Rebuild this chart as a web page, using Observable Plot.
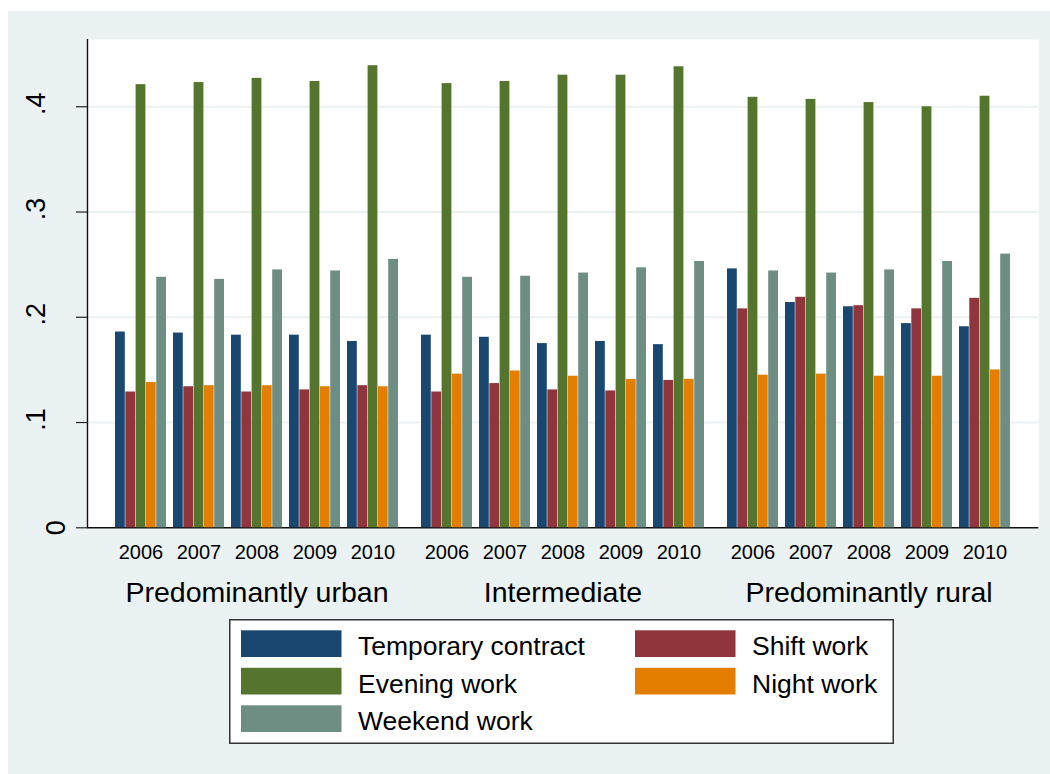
<!DOCTYPE html>
<html>
<head>
<meta charset="utf-8">
<script src="https://cdn.jsdelivr.net/npm/d3@7"></script>
<script src="https://cdn.jsdelivr.net/npm/@observablehq/plot@0.6"></script>
<style>
  html, body { margin: 0; padding: 0; background: #ffffff; }
  #page { position: relative; width: 1050px; height: 774px; overflow: hidden; font-family: "Liberation Sans", Arial, sans-serif; }
  #bg { position: absolute; left: 8px; top: 11px; width: 1042px; height: 763px; background: #eaf2f3; }
  .layer { position: absolute; left: 0; top: 0; }
  #legend { position: absolute; left: 229px; top: 619px; }
</style>
</head>
<body>
<div id="page">
  <div id="bg"></div>
  <div id="back" class="layer"></div>
  <div id="front" class="layer"></div>
  <div id="legend"></div>
</div>
<script>
// ---- data ----
const regions = ["Predominantly urban", "Intermediate", "Predominantly rural"];
const years = ["2006", "2007", "2008", "2009", "2010"];
const seriesNames = ["Temporary contract", "Shift work", "Evening work", "Night work", "Weekend work"];
const seriesColors = ["#1a476f", "#90353b", "#55752f", "#e37e00", "#6e8e84"];
// values in order: urban 2006-2010, intermediate 2006-2010, rural 2006-2010
const temporaryContract = [0.186, 0.185, 0.183, 0.183, 0.177, 0.183, 0.181, 0.175, 0.177, 0.174, 0.246, 0.214, 0.210, 0.194, 0.191];
const shiftWork = [0.129, 0.134, 0.129, 0.131, 0.135, 0.129, 0.137, 0.131, 0.130, 0.140, 0.208, 0.219, 0.211, 0.208, 0.218];
const eveningWork = [0.421, 0.423, 0.427, 0.424, 0.439, 0.422, 0.424, 0.430, 0.430, 0.438, 0.409, 0.407, 0.404, 0.400, 0.410];
const nightWork = [0.138, 0.135, 0.135, 0.134, 0.134, 0.146, 0.149, 0.144, 0.141, 0.141, 0.145, 0.146, 0.144, 0.144, 0.150];
const weekendWork = [0.238, 0.236, 0.245, 0.244, 0.255, 0.238, 0.239, 0.242, 0.247, 0.253, 0.244, 0.242, 0.245, 0.253, 0.260];
const yTicks = [0, 0.1, 0.2, 0.3, 0.4];

const seriesValues = [temporaryContract, shiftWork, eveningWork, nightWork, weekendWork];
const keys = ["s0", "s1", "s2", "s3", "s4"];
const rows = [];
regions.forEach((r, ri) => years.forEach((y, yi) => {
  const row = {region: r, year: y};
  seriesValues.forEach((arr, si) => { row[keys[si]] = arr[ri * 5 + yi]; });
  rows.push(row);
}));

// ---- layout ----
const W = 1050, H = 620;
const mTop = 39, mLeft = 87, mRight = 11.7, mBottom = H - 527.3;
const yDomain = [0, 0.4639];
const fxPI = 0.042, fxPO = 0.075, xPI = 0.1216, xPO = 0.0608;
const plotW = W - mLeft - mRight;
const fxStep = plotW / (regions.length - fxPI + 2 * fxPO);
const fxBand = fxStep * (1 - fxPI);
const xStep = fxBand / (years.length - xPI + 2 * xPO);
const xBand = xStep * (1 - xPI);
const barW = xBand / keys.length;
const font = "'Liberation Sans', Arial, sans-serif";
const fmt = d => d === 0 ? "0" : d3.format(".1f")(d).replace(/^0/, "");

// ---- back layer: plot region, grid, axes ----
const back = Plot.plot({
  width: W, height: H,
  marginTop: mTop, marginLeft: mLeft, marginRight: mRight, marginBottom: mBottom,
  style: {background: "transparent", overflow: "visible", fontFamily: font},
  x: {domain: [0, 1], axis: null},
  y: {domain: yDomain},
  marks: [
    Plot.frame({fill: "white", stroke: "none"}),
    Plot.ruleY(yTicks.filter(d => d > 0), {stroke: "#eaf2f3", strokeWidth: 2}),
    Plot.axisY(yTicks, {tickSize: 11, tickFormat: () => "", stroke: "#222", strokeWidth: 1.2, label: null}),
    Plot.ruleY([0], {stroke: "#111", strokeWidth: 1.4}),
    Plot.ruleX([0], {stroke: "#111", strokeWidth: 1.4}),
    Plot.text(yTicks.filter(d => d > 0), {y: d => d, text: fmt, frameAnchor: "left", dx: -43, dy: -3,
      rotate: -90, textAnchor: "middle", lineAnchor: "bottom", fontSize: 27, fill: "black"}),
    Plot.text([0], {y: d => d, text: fmt, frameAnchor: "left", dx: -23, rotate: -90,
      textAnchor: "middle", lineAnchor: "bottom", fontSize: 27, fill: "black"})
  ]
});
document.getElementById("back").appendChild(back);

// ---- front layer: bars and category axes ----
const front = Plot.plot({
  width: W, height: H,
  marginTop: mTop, marginLeft: mLeft, marginRight: mRight, marginBottom: mBottom,
  style: {background: "transparent", overflow: "visible", fontFamily: font},
  fx: {domain: regions, paddingInner: fxPI, paddingOuter: fxPO, label: null},
  x: {domain: years, paddingInner: xPI, paddingOuter: xPO, label: null},
  y: {domain: yDomain, axis: null},
  marks: [
    ...keys.map((k, i) => Plot.barY(rows, {
      fx: "region", x: "year", y: k, fill: seriesColors[i],
      insetLeft: i * barW, insetRight: (keys.length - 1 - i) * barW
    })),
    Plot.axisX({tickSize: 0, tickPadding: 17, fontSize: 20, label: null, fill: "black"}),
    Plot.axisFx({anchor: "bottom", tickSize: 0, tickPadding: 54, fontSize: 28.5, label: null, fill: "black"})
  ]
});
document.getElementById("front").appendChild(front);

// ---- legend ----
const LW = 665, LH = 125;
const leg = d3.select("#legend").append("svg").attr("width", LW).attr("height", LH)
  .style("font-family", font);
leg.append("rect").attr("x", 0.75).attr("y", 0.75).attr("width", LW - 1.5).attr("height", LH - 1.5)
  .attr("fill", "white").attr("stroke", "#333").attr("stroke-width", 1.5);
const order = [0, 1, 2, 3, 4];
order.forEach((si, idx) => {
  const col = idx % 2, row = Math.floor(idx / 2);
  const sx = col === 0 ? 12 : 406;
  const tx = col === 0 ? 129 : 523;
  const sy = 11.3 + row * 37.5;
  leg.append("rect").attr("x", sx).attr("y", sy).attr("width", 100.5).attr("height", 26.7)
    .attr("fill", seriesColors[si]);
  leg.append("text").attr("x", tx).attr("y", sy + 25).attr("font-size", 26.5).attr("fill", "black")
    .text(seriesNames[si]);
});
</script>
</body>
</html>
